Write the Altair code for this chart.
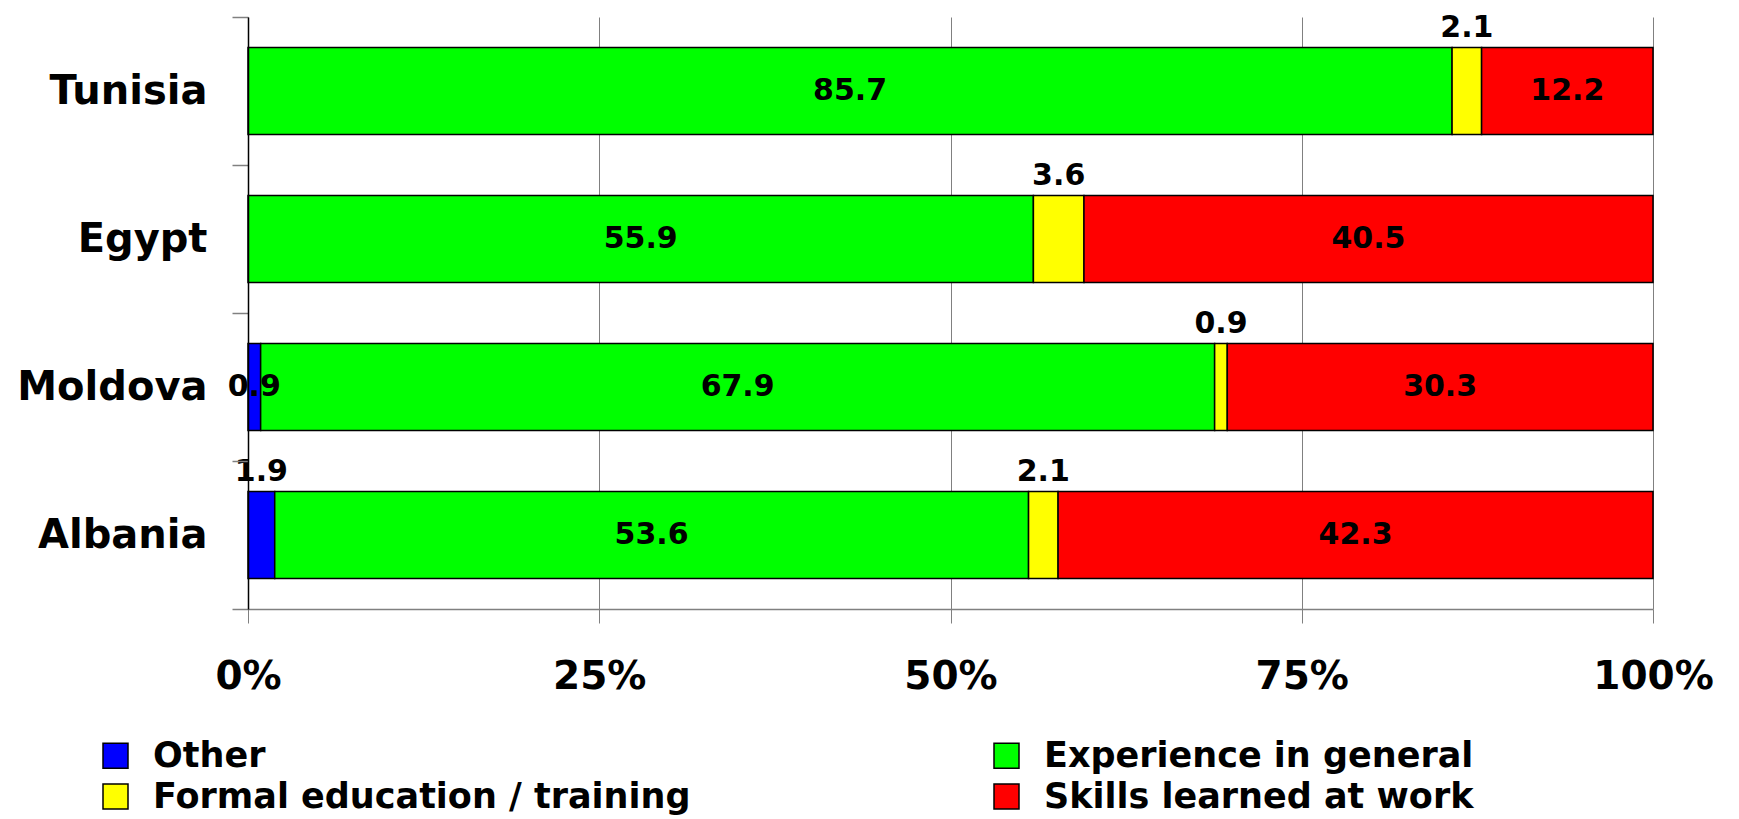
import altair as alt
import pandas as pd

# Where skills come from, share of respondents (%)
countries = ["Tunisia", "Egypt", "Moldova", "Albania"]
sources = [
    "Other",
    "Experience in general",
    "Formal education / training",
    "Skills learned at work",
]
colors = ["#0000FF", "#00FF00", "#FFFF00", "#FF0000"]

other = [0.0, 0.0, 0.9, 1.9]
experience = [85.7, 55.9, 67.9, 53.6]
formal = [2.1, 3.6, 0.9, 2.1]
skills = [12.2, 40.5, 30.3, 42.3]

# segments too thin to hold their value get the label above the bar
raised = {
    ("Tunisia", "Formal education / training"),
    ("Egypt", "Formal education / training"),
    ("Moldova", "Formal education / training"),
    ("Albania", "Other"),
    ("Albania", "Formal education / training"),
}

rows = []
for i, country in enumerate(countries):
    for k, (source, vals) in enumerate(zip(sources, [other, experience, formal, skills])):
        v = vals[i]
        if v == 0:
            continue
        rows.append(
            dict(
                country=country,
                source=source,
                order=k,
                value=v,
                label=f"{v:.1f}",
                raised=(country, source) in raised,
            )
        )
df = pd.DataFrame(rows)

FONT = "DejaVu Sans"

base = alt.Chart(df).transform_stack(
    stack="value",
    groupby=["country"],
    as_=["x0", "x1"],
    offset="normalize",
    sort=[alt.SortField("order", "ascending")],
).transform_calculate(mid="(datum.x0 + datum.x1) / 2")

# one band per country; ticks mark the band edges, bars fill part of each band
y_enc = alt.Y(
    "country:N",
    sort=countries,
    scale=alt.Scale(paddingInner=0, paddingOuter=0),
    axis=alt.Axis(
        title=None,
        tickBand="extent",
        tickSize=16,
        tickColor="#808080",
        tickWidth=1.5,
        domainColor="black",
        domainWidth=1.5,
        labelFont=FONT,
        labelFontSize=40,
        labelFontWeight="bold",
        labelColor="black",
        labelPadding=25,
        labelLimit=0,
        grid=False,
        zindex=2,
    ),
)

x_scale = alt.Scale(domain=[0, 1], nice=False, zero=True)
x_axis = alt.Axis(
    title=None,
    values=[0, 0.25, 0.5, 0.75, 1],
    format="%",
    grid=True,
    gridColor="#808080",
    gridWidth=1,
    tickSize=14,
    tickColor="#808080",
    domainColor="#808080",
    domainWidth=1.5,
    labelFont=FONT,
    labelFontSize=39,
    labelFontWeight="bold",
    labelColor="black",
    labelPadding=34,
    labelFlush=False,
)

bars = base.mark_bar(
    stroke="black", strokeWidth=1.5, height={"band": 0.588}
).encode(
    y=y_enc,
    x=alt.X("x0:Q", scale=x_scale, axis=x_axis),
    x2="x1:Q",
    color=alt.Color(
        "source:N",
        scale=alt.Scale(domain=sources, range=colors),
        legend=alt.Legend(
            title=None,
            orient="none",
            legendX=-150,
            legendY=721,
            direction="horizontal",
            columns=2,
            symbolType="square",
            symbolSize=625,
            symbolStrokeColor="black",
            symbolStrokeWidth=1.5,
            symbolOpacity=1,
            labelFont=FONT,
            labelFontSize=35,
            labelFontWeight="bold",
            labelColor="black",
            labelOffset=20,
            labelLimit=0,
            columnPadding=298,
            rowPadding=5,
            padding=0,
        ),
    ),
)

text_style = dict(font=FONT, fontSize=30, fontWeight="bold", color="black")

inside = base.transform_filter("!datum.raised").mark_text(
    baseline="middle", **text_style
).encode(
    y=y_enc,
    x=alt.X("mid:Q", scale=x_scale, axis=x_axis),
    text="label:N",
)

above = base.transform_filter("datum.raised").mark_text(
    baseline="alphabetic", dy=-54, **text_style
).encode(
    y=y_enc,
    x=alt.X("mid:Q", scale=x_scale, axis=x_axis),
    text="label:N",
)

chart = (
    alt.layer(bars, inside, above)
    .properties(
        width=1405,
        height=592,
        autosize=alt.AutoSizeParams(type="none"),
        padding={"left": 248, "top": 17, "right": 86, "bottom": 210},
        background="white",
    )
    .configure_view(stroke=None)
)

chart.save("out.html", embed_options={"renderer": "svg", "actions": False})
